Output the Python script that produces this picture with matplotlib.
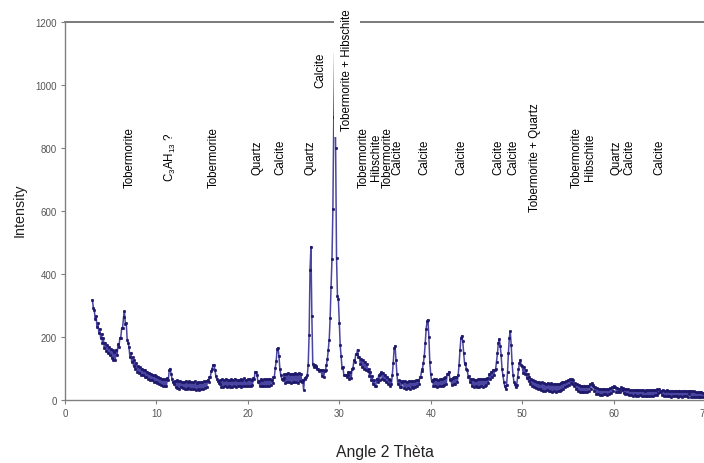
import numpy as np
import matplotlib
matplotlib.use("Agg")
import matplotlib.pyplot as plt

plt.rcParams['font.family'] = ['Liberation Sans', 'DejaVu Sans']
plt.rcParams['mathtext.fontset'] = 'custom'
plt.rcParams['mathtext.rm'] = 'Liberation Sans'

# 2-theta scan grid (instrument step 0.1 deg) and intensities
angle_start, angle_step = 3.0, 0.1
intensity = [
    318, 292, 286, 258, 266, 232, 244, 214, 226, 196,   # 3
    210, 180, 196, 166, 182, 156, 174, 148, 168, 142,   # 4
    162, 134, 158, 126, 152, 128, 160, 142, 178, 168,   # 5
    198, 198, 228, 230, 262, 281, 242, 244, 192, 182,   # 6
    168, 136, 150, 120, 136, 108, 126, 98, 116, 90,     # 7
    108, 86, 104, 80, 100, 78, 96, 74, 94, 72,          # 8
    90, 68, 86, 64, 84, 62, 80, 58, 78, 56,             # 9
    76, 54, 72, 50, 70, 48, 68, 46, 66, 46,             # 10
    66, 46, 70, 64, 94, 100, 84, 68, 56, 50,            # 11
    60, 40, 62, 38, 59, 36, 60, 40, 58, 37,             # 12
    58, 36, 60, 34, 56, 38, 59, 34, 57, 36,             # 13
    56, 34, 59, 32, 54, 36, 58, 31, 56, 34,             # 14
    58, 36, 60, 38, 59, 42, 64, 58, 72, 74,             # 15
    92, 100, 112, 110, 96, 76, 66, 60, 54, 50,          # 16
    64, 42, 66, 40, 62, 44, 67, 41, 64, 43,             # 17
    62, 42, 66, 41, 64, 44, 68, 42, 63, 44,             # 18
    64, 43, 67, 42, 65, 44, 69, 43, 64, 45,             # 19
    66, 44, 67, 46, 64, 48, 70, 68, 90, 88,             # 20
    80, 58, 60, 46, 66, 44, 64, 46, 66, 45,             # 21
    67, 46, 66, 44, 68, 48, 64, 54, 72, 74,             # 22
    102, 124, 162, 166, 140, 100, 80, 68, 64, 70,       # 23
    82, 54, 84, 56, 86, 58, 82, 54, 84, 58,             # 24
    84, 56, 86, 58, 84, 54, 86, 60, 82, 56,             # 25
    64, 32, 70, 68, 74, 78, 112, 206, 414, 487,         # 26
    266, 114, 104, 110, 108, 104, 98, 98, 92, 94,       # 27
    96, 76, 96, 74, 92, 96, 112, 130, 160, 192,         # 28
    260, 360, 447, 606, 900, 1102, 800, 450, 330, 320,  # 29
    244, 174, 139, 102, 106, 78, 78, 80, 74, 80,        # 30
    90, 68, 88, 70, 100, 102, 126, 122, 146, 146,       # 31
    160, 136, 136, 114, 130, 104, 126, 100, 120, 96,    # 32
    114, 92, 100, 76, 88, 64, 76, 52, 64, 44,           # 33
    46, 68, 56, 78, 62, 84, 88, 68, 86, 62,             # 34
    80, 58, 74, 52, 66, 46, 62, 50, 80, 118,            # 35
    164, 172, 126, 84, 50, 62, 42, 60, 40, 58,          # 36
    60, 38, 59, 36, 58, 38, 60, 36, 59, 40,             # 37
    60, 38, 61, 40, 62, 44, 64, 52, 72, 74,             # 38
    92, 100, 118, 140, 180, 225, 250, 255, 200, 120,    # 39
    82, 60, 64, 46, 68, 44, 66, 42, 64, 46,             # 40
    66, 44, 68, 46, 70, 48, 72, 52, 82, 84,             # 41
    90, 64, 68, 48, 70, 50, 72, 52, 74, 56,             # 42
    78, 112, 158, 196, 204, 188, 150, 118, 114, 100,    # 43
    96, 72, 76, 56, 68, 44, 66, 42, 64, 44,             # 44
    64, 40, 66, 42, 68, 44, 66, 42, 67, 46,             # 45
    68, 48, 70, 54, 82, 68, 90, 72, 96, 78,             # 46
    94, 98, 122, 148, 182, 194, 172, 144, 98, 78,       # 47
    58, 44, 36, 48, 88, 150, 198, 218, 176, 118,        # 48
    80, 58, 50, 40, 48, 72, 98, 118, 128, 110,          # 49
    108, 86, 106, 82, 96, 70, 84, 60, 74, 52,           # 50
    66, 46, 62, 42, 60, 38, 58, 36, 56, 34,             # 51
    54, 32, 56, 30, 54, 28, 52, 32, 54, 30,             # 52
    52, 28, 54, 26, 50, 30, 52, 26, 50, 28,             # 53
    52, 28, 54, 32, 56, 36, 58, 40, 60, 44,             # 54
    62, 48, 66, 54, 66, 50, 62, 44, 54, 36,             # 55
    50, 28, 48, 26, 46, 24, 44, 26, 46, 24,             # 56
    44, 26, 46, 30, 50, 36, 54, 48, 46, 30,             # 57
    40, 20, 38, 18, 36, 16, 36, 15, 34, 18,             # 58
    36, 18, 34, 16, 36, 20, 38, 22, 40, 28,             # 59
    44, 42, 42, 26, 38, 24, 36, 26, 40, 32,             # 60
    38, 22, 36, 20, 34, 18, 34, 16, 32, 16,             # 61
    32, 14, 31, 15, 32, 14, 31, 13, 32, 15,             # 62
    31, 13, 32, 14, 30, 12, 32, 14, 31, 13,             # 63
    32, 14, 31, 13, 33, 15, 32, 16, 34, 22,             # 64
    34, 26, 30, 16, 32, 14, 30, 12, 31, 13,             # 65
    30, 12, 29, 11, 30, 13, 29, 12, 30, 14,             # 66
    29, 11, 30, 12, 28, 10, 29, 12, 30, 13,             # 67
    28, 10, 29, 20, 28, 11, 28, 10, 27, 11,             # 68
    26, 9, 25, 10, 26, 8, 24, 9, 23, 10,                # 69
    15,                                                 # 70
]
angle = np.round(np.arange(len(intensity)) * angle_step + angle_start, 2)

# Phase annotations
label_texts = [
    "Tobermorite", r"C$_\mathregular{3}$AH$_\mathregular{13}$ ?", "Tobermorite",
    "Quartz", "Calcite", "Quartz", "Calcite", "Tobermorite + Hibschite",
    "Tobermorite", "Hibschite", "Tobermorite", "Calcite", "Calcite", "Calcite",
    "Calcite", "Calcite", "Tobermorite + Quartz", "Tobermorite", "Hibschite",
    "Quartz", "Calcite", "Calcite",
]
label_x = [7.1, 11.5, 16.3, 21.1, 23.6, 26.8, 27.9, 30.8,
           32.7, 34.05, 35.35, 36.35, 39.35, 43.35, 47.4, 49.0, 51.4,
           56.0, 57.4, 60.3, 61.7, 65.0]
label_y = [773, 773, 773, 773, 773, 773, 1049, 1049,
           773, 773, 773, 773, 773, 773, 773, 773, 773,
           773, 773, 773, 773, 773]

x_ticks = [0, 10, 20, 30, 40, 50, 60, 70]
y_ticks = [0, 200, 400, 600, 800, 1000, 1200]

W, H = 704, 464
fig = plt.figure(figsize=(W / 100, H / 100), dpi=100)
ax = fig.add_axes([65 / W, (H - 401) / H, 640 / W, 378 / H])

ax.plot(angle, intensity, color='#4a45a0', lw=1.1, marker='o', ms=1.7,
        mec='#1e186a', mfc='#1e186a', mew=0.5, zorder=3)

ax.set_xlim(0, 70)
ax.set_ylim(0, 1200)
ax.set_xticks(x_ticks)
ax.set_yticks(y_ticks)
ax.axhline(1200, color='#707070', lw=1.3, zorder=1, clip_on=False)

for s in ['top', 'right']:
    ax.spines[s].set_visible(False)
for s in ['left', 'bottom']:
    ax.spines[s].set_color('#808080')
    ax.spines[s].set_linewidth(1.0)
ax.tick_params(axis='both', direction='out', length=3, width=0.8,
               colors='#808080', labelcolor='#555555', labelsize=7, pad=3)

for t, x, y in zip(label_texts, label_x, label_y):
    kw = {}
    if t == "Tobermorite + Hibschite":
        kw['bbox'] = dict(facecolor='white', edgecolor='none', pad=5)
    ax.text(x, y, t, rotation=90, ha='center', va='center', fontsize=8.3,
            color='black', zorder=5, clip_on=False, **kw)

fig.text(385 / W, 1 - 453 / H, "Angle 2 Thèta", ha='center', va='center',
         fontsize=11.3, color='#222222')
fig.text(20 / W, 1 - 210 / H, "Intensity", ha='center', va='center',
         rotation=90, fontsize=10.3, color='#222222')

fig.savefig("out.png", dpi=100, facecolor='white')
